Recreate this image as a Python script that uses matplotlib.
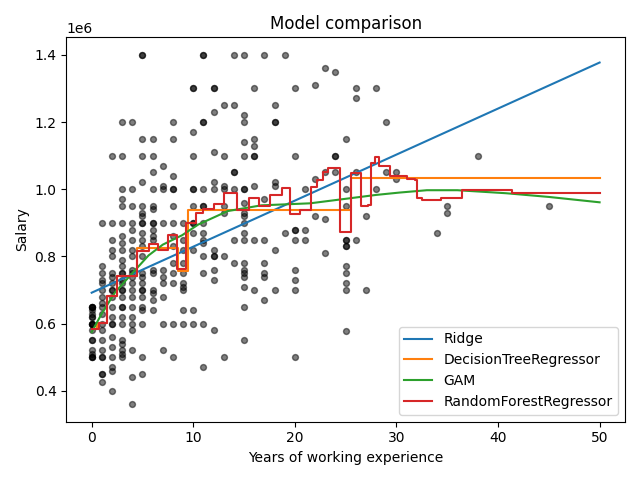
import matplotlib
matplotlib.use('Agg')
import matplotlib.pyplot as plt
import numpy as np

# salaries, in thousands, grouped by years of experience
experience = (
    [0] * 20 + [1] * 19 + [2] * 21 + [3] * 27 + [4] * 21 + [5] * 25
    + [6] * 17 + [7] * 10 + [8] * 14 + [9] * 10 + [10] * 13 + [11] * 15
    + [12] * 12 + [13] * 8 + [14] * 7 + [15] * 20 + [16] * 8 + [17] * 7
    + [18] * 7 + [19] * 2 + [20] * 9 + [21] * 3 + [22] * 3 + [23] * 4
    + [24] * 4 + [25] * 12 + [26] * 4 + [27] * 2 + [28] * 2 + [29] * 2
    + [30] * 2 + [34] * 1 + [35] * 2 + [38] * 1 + [45] * 1
)
salary = [
    650, 650, 650, 640, 630, 620, 620, 600, 600, 600, 580, 550, 550, 520, 500, 500, 500, 510, 600, 650,
    900, 770, 750, 730, 720, 700, 680, 660, 650, 630, 600, 580, 550, 520, 500, 450, 450, 425, 500,
    1100, 900, 850, 820, 800, 750, 740, 720, 700, 700, 680, 650, 620, 600, 600, 560, 530, 470, 460, 400, 500,
    1200, 1100, 1000, 970, 950, 900, 860, 840, 820, 790, 770, 750, 750, 730, 720, 700, 700, 680, 650, 650,
    620, 600, 550, 540, 520, 510, 500,
    1200, 1000, 950, 900, 880, 850, 820, 800, 760, 750, 740, 720, 700, 680, 650, 620, 600, 580, 520, 440, 360,
    1400, 1400, 1150, 1100, 1020, 950, 930, 920, 900, 900, 870, 850, 830, 800, 750, 740, 720, 700, 700, 680,
    650, 640, 600, 500, 450,
    1150, 1100, 1050, 1000, 950, 940, 900, 900, 880, 860, 850, 760, 750, 700, 690, 670, 640,
    1070, 1010, 1000, 900, 760, 740, 720, 680, 600, 520,
    1200, 1150, 1040, 1000, 1000, 950, 900, 860, 830, 780, 750, 720, 600, 500,
    900, 850, 820, 780, 750, 720, 710, 700, 640, 600,
    1300, 1300, 1170, 1100, 1000, 1000, 950, 900, 900, 870, 820, 640, 600,
    1400, 1400, 1200, 1200, 1000, 950, 950, 900, 870, 850, 840, 800, 750, 600, 470,
    1300, 1300, 1230, 1110, 1020, 1000, 820, 800, 800, 760, 730, 580,
    1250, 1100, 1010, 1000, 950, 930, 800, 500,
    1400, 1250, 1050, 1050, 1000, 850, 780,
    1400, 1220, 1200, 1140, 1100, 1000, 1000, 960, 930, 920, 900, 870, 850, 780, 760, 750, 740, 710, 650, 550,
    1300, 1150, 1130, 1100, 1100, 1010, 850, 700,
    1400, 970, 850, 780, 750, 740, 670,
    1250, 1200, 1200, 1020, 1010, 820, 700,
    1400, 870,
    1300, 1100, 880, 880, 850, 760, 730, 700, 500,
    1000, 880, 850,
    1310, 1030, 920,
    1360, 1050, 910, 810,
    1350, 1100, 1100, 1050,
    1150, 1000, 950, 850, 850, 830, 830, 770, 750, 720, 700, 577,
    1300, 1270, 1050, 850,
    920, 700,
    1300, 1000,
    1200, 1050,
    1050, 1030,
    870,
    950, 930,
    1100,
    950,
]

ridge_x = [0, 50]
ridge_y = [692, 1377]

tree_x = [0, 0.5, 1.5, 2.5, 4.5, 8.5, 9.5, 25.5, 50]
tree_y = [585, 603, 683, 743, 824, 757, 937, 1033, 1033]

gam_x = [0, 1, 2.3, 4, 5.6, 7, 8.9, 10.5, 13.4, 16.7, 21.5, 25.4, 28, 30.3, 33, 36, 40.8, 45, 50]
gam_y = [575, 630, 693, 750, 803, 835, 863, 895, 935, 952, 958, 973, 983, 990, 997, 997, 988, 977, 961]

forest_x = [0, 0.7, 1.5, 2.5, 4.5, 5.6, 6.5, 7.5, 8.4, 9.3, 10.3, 11.0, 12.0, 13.0, 14.3, 15.5,
            16.5, 17.6, 18.7, 19.5, 20.5, 21.6, 22.2, 22.8, 23.3, 24.4, 25.5, 26.5, 27.2, 27.5,
            27.9, 28.3, 29.4, 31.0, 31.8, 32.0, 32.5, 34.4, 36.5, 41.4, 50]
forest_y = [585, 603, 683, 743, 815, 836, 820, 863, 764, 898, 930, 940, 955, 990, 937, 973,
            950, 983, 1003, 925, 937, 1006, 1027, 1050, 1062, 872, 1048, 949, 952, 1078,
            1095, 1070, 1040, 1030, 1027, 973, 967, 975, 997, 990, 990]


def k(v):
    return np.array(v) * 1000


plt.figure(figsize=(6.4, 4.8), dpi=100)
plt.scatter(experience, k(salary), c='black', alpha=0.5, s=18)
plt.plot(ridge_x, k(ridge_y), label='Ridge')
plt.step(tree_x, k(tree_y), where='post', label='DecisionTreeRegressor')
plt.plot(gam_x, k(gam_y), label='GAM')
plt.step(forest_x, k(forest_y), where='post', label='RandomForestRegressor')
plt.title('Model comparison')
plt.xlabel('Years of working experience')
plt.ylabel('Salary')
plt.legend(loc='lower right')
plt.tight_layout()
plt.savefig('out.png')
